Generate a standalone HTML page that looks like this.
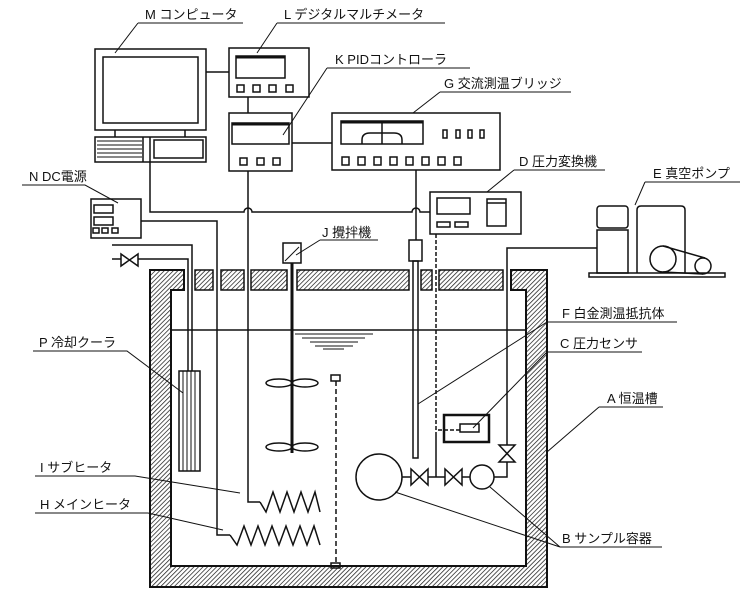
<!DOCTYPE html>
<html><head><meta charset="utf-8"><style>
html,body{margin:0;padding:0;background:#fff}
svg{display:block}
text{font-family:"Liberation Sans","Noto Sans CJK JP",sans-serif;font-size:13px;fill:#111}
</style></head><body>
<svg width="748" height="600" viewBox="0 0 748 600" xmlns="http://www.w3.org/2000/svg">
<defs>
<pattern id="h" width="3.2" height="3.2" patternUnits="userSpaceOnUse" patternTransform="rotate(45)">
<rect width="3.2" height="3.2" fill="#fff"/><line x1="0" y1="0" x2="0" y2="3.2" stroke="#222" stroke-width="1.5"/>
</pattern>
</defs>
<g stroke="#111" stroke-width="1.5" fill="none">
<path d="M150,270 H184 V290 H171 V566 H526 V290 H511 V270 H547 V587 H150 Z" fill="url(#h)" stroke-width="2"/>
<rect x="195" y="270" width="18" height="20" fill="url(#h)"/>
<rect x="221" y="270" width="23" height="20" fill="url(#h)"/>
<rect x="251" y="270" width="36" height="20" fill="url(#h)"/>
<rect x="297" y="270" width="112" height="20" fill="url(#h)"/>
<rect x="421" y="270" width="11" height="20" fill="url(#h)"/>
<rect x="439" y="270" width="64" height="20" fill="url(#h)"/>
<line x1="171" y1="330" x2="526" y2="330"/>
<line x1="295" y1="334" x2="373" y2="334" stroke-width="1"/>
<line x1="302" y1="338" x2="365" y2="338" stroke-width="1"/>
<line x1="310" y1="342" x2="358" y2="342" stroke-width="1"/>
<line x1="315" y1="346" x2="353" y2="346" stroke-width="1"/>
<line x1="323" y1="349" x2="344" y2="349" stroke-width="1"/>

<rect x="95" y="49" width="111" height="81"/>
<rect x="103" y="57" width="95" height="66"/>
<line x1="115" y1="130" x2="115" y2="137"/><line x1="185" y1="130" x2="185" y2="137"/>
<rect x="95" y="137" width="111" height="25"/>
<rect x="154" y="140" width="49" height="18"/>
<line x1="143" y1="137" x2="143" y2="162"/><line x1="150" y1="137" x2="150" y2="162"/>
<g stroke-width="1"><line x1="97" y1="141" x2="142" y2="141"/><line x1="97" y1="145" x2="142" y2="145"/><line x1="97" y1="149" x2="142" y2="149"/><line x1="97" y1="153" x2="142" y2="153"/><line x1="97" y1="157" x2="142" y2="157"/></g>
<line x1="206" y1="72" x2="229" y2="72"/>
<rect x="229" y="48" width="80" height="49"/>
<rect x="236" y="56" width="49" height="22"/><line x1="236" y1="57" x2="285" y2="57" stroke-width="3"/>
<rect x="237" y="85" width="7" height="7"/><rect x="253" y="85" width="7" height="7"/><rect x="269" y="85" width="7" height="7"/><rect x="286" y="85" width="7" height="7"/>
<line x1="248" y1="97" x2="248" y2="113"/>
<rect x="229" y="113" width="63" height="58"/>
<rect x="232" y="123" width="57" height="21"/><line x1="232" y1="124" x2="289" y2="124" stroke-width="3"/>
<rect x="240" y="158" width="7" height="7"/><rect x="257" y="158" width="7" height="7"/><rect x="273" y="158" width="7" height="7"/>
<line x1="292" y1="143" x2="332" y2="143"/>
<rect x="332" y="113" width="168" height="57"/>
<rect x="341" y="121" width="82" height="23"/><line x1="341" y1="122" x2="423" y2="122" stroke-width="3"/>
<path d="M362,144 V140 Q362,133 370,133 H394 Q402,133 402,140 V144"/><line x1="382" y1="121" x2="382" y2="144"/>
<rect x="443" y="130" width="4" height="8"/><rect x="456" y="130" width="4" height="8"/><rect x="468" y="130" width="4" height="8"/><rect x="480" y="130" width="4" height="8"/>
<rect x="342" y="157" width="7" height="8"/><rect x="358" y="157" width="7" height="8"/><rect x="374" y="157" width="7" height="8"/><rect x="390" y="157" width="7" height="8"/><rect x="406" y="157" width="7" height="8"/><rect x="422" y="157" width="7" height="8"/><rect x="438" y="157" width="7" height="8"/><rect x="454" y="157" width="7" height="8"/>
<line x1="416" y1="170" x2="416" y2="240"/>
<path d="M150,162 V212 H244 A4,4 0 0 1 252,212 H412 A4,4 0 0 1 420,212 H430"/>
<rect x="430" y="192" width="91" height="42"/>
<rect x="437" y="198" width="33" height="16"/>
<rect x="437" y="222" width="13" height="5"/><rect x="455" y="222" width="13" height="5"/>
<rect x="487" y="199" width="19" height="27"/><line x1="487" y1="203" x2="506" y2="203"/>
<rect x="91" y="199" width="50" height="39"/>
<rect x="94" y="205" width="19" height="8"/><rect x="94" y="217" width="19" height="8"/>
<rect x="93" y="228" width="6" height="5"/><rect x="102" y="228" width="6" height="5"/><rect x="112" y="228" width="6" height="5"/>
<path d="M141,221 H217 V535 H230"/>
<path d="M248,171 V502 H260"/>
<path d="M230,535 L237,545 L244,526 L251,545 L258,526 L265,545 L272,526 L279,545 L286,526 L293,545 L300,526 L307,545 L314,526 L320,545"/>
<path d="M260,502 L266,512 L273,492 L280,512 L287,492 L294,512 L301,492 L308,512 L315,492 L320,512"/>
<path d="M112,245 H192 V371"/>
<path d="M112,259 H121 M138,259 H188 V371"/>
<path d="M121,254 V266 L138,254 V266 Z"/>
<rect x="179" y="371" width="21" height="100"/>
<g stroke-width="1"><line x1="183" y1="371" x2="183" y2="471"/><line x1="187" y1="371" x2="187" y2="471"/><line x1="191" y1="371" x2="191" y2="471"/><line x1="195" y1="371" x2="195" y2="471"/></g>
<rect x="283" y="243" width="18" height="20"/>
<line x1="285" y1="261" x2="299" y2="247" stroke-width="1"/>
<line x1="292" y1="263" x2="292" y2="453" stroke-width="3"/>
<ellipse cx="279" cy="383" rx="13" ry="4"/><ellipse cx="305" cy="383" rx="13" ry="4"/>
<ellipse cx="279" cy="447" rx="13" ry="4"/><ellipse cx="305" cy="447" rx="13" ry="4"/>
<rect x="331" y="375" width="9" height="6"/>
<line x1="336" y1="381" x2="336" y2="563" stroke-dasharray="5,3"/>
<rect x="331" y="563" width="9" height="5"/>
<rect x="409" y="240" width="13" height="21"/>
<rect x="413" y="261" width="5" height="197"/>
<path d="M436,234 V430 H460" stroke-dasharray="4,2"/>
<rect x="444" y="415" width="45" height="27" stroke-width="2.5"/>
<rect x="460" y="424" width="19" height="8"/>
<path d="M436,432 V477"/>
<circle cx="379" cy="477" r="23"/>
<circle cx="482" cy="477" r="12"/>
<path d="M402,477 H411 M428,477 H445 M462,477 H470"/>
<path d="M411,469 V485 L428,469 V485 Z"/>
<path d="M445,469 V485 L462,469 V485 Z"/>
<path d="M494,477 H507 V462 M507,445 V248 H597"/>
<path d="M499,445 H515 L499,462 H515 Z"/>
<rect x="597" y="230" width="31" height="43"/>
<rect x="597" y="206" width="31" height="22" rx="3"/>
<path d="M637,273 V210 Q637,206 641,206 H681 Q685,206 685,210 V273"/>
<circle cx="663" cy="259" r="13"/>
<circle cx="703" cy="266" r="8"/>
<line x1="663" y1="246" x2="705" y2="258"/><line x1="663" y1="272" x2="703" y2="274"/>
<rect x="589" y="273" width="136" height="4"/>
<g stroke-width="1">
<path d="M138,23 H243 M138,23 L115,53"/>
<path d="M277,23 H445 M277,23 L257,53"/>
<path d="M327,68 H470 M327,68 L283,135"/>
<path d="M440,92 H571 M440,92 L413,113"/>
<path d="M514,170 H605 M514,170 L487,192"/>
<path d="M645,182 H740 M645,182 L635,205"/>
<path d="M22,185 H85 L118,203"/>
<path d="M320,240 H378 M320,240 L296,255"/>
<path d="M547,322 H677 M547,322 L418,404"/>
<path d="M547,352 H642 M547,352 L473,428"/>
<path d="M599,407 H663 M599,407 L547,452"/>
<path d="M560,547 H662 M560,547 L395,492 M560,547 L490,487"/>
<path d="M33,351 H127 L183,393"/>
<path d="M35,476 H135 L240,493"/>
<path d="M35,513 H148 L223,530"/>
</g>
</g>
<text x="145" y="19">M コンピュータ</text>
<text x="284" y="19">L デジタルマルチメータ</text>
<text x="335" y="64">K PIDコントローラ</text>
<text x="444" y="88">G 交流測温ブリッジ</text>
<text x="519" y="166">D 圧力変換機</text>
<text x="653" y="178">E 真空ポンプ</text>
<text x="29" y="181">N DC電源</text>
<text x="322" y="237">J 攪拌機</text>
<text x="562" y="318">F 白金測温抵抗体</text>
<text x="560" y="348">C 圧力センサ</text>
<text x="607" y="403">A 恒温槽</text>
<text x="562" y="543">B サンプル容器</text>
<text x="39" y="347">P 冷却クーラ</text>
<text x="40" y="472">I サブヒータ</text>
<text x="40" y="509">H メインヒータ</text>
</svg>
</body></html>
